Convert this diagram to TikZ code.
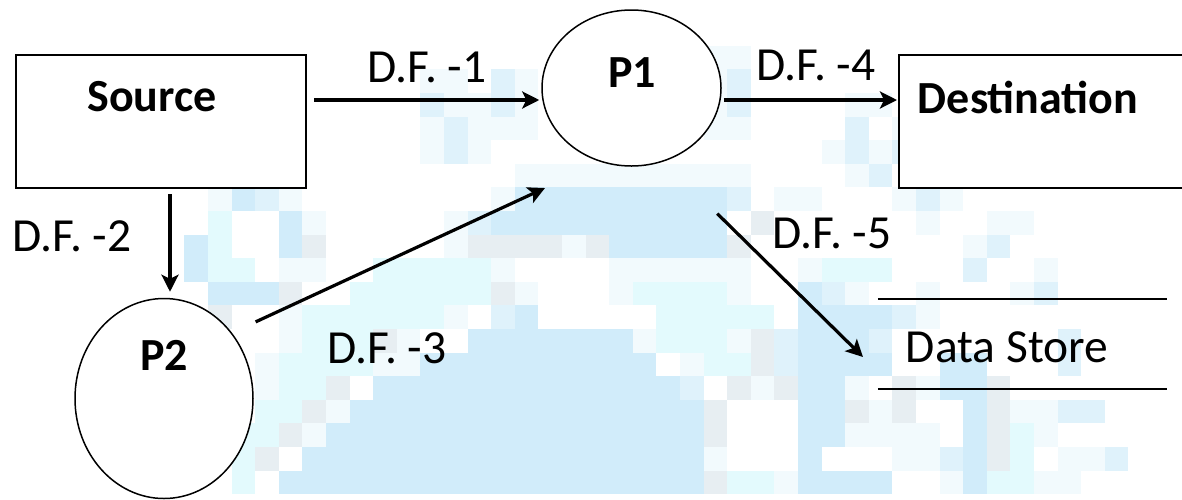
\documentclass[tikz,border=0pt]{standalone}
\usepackage{fontspec}
\setmainfont{Carlito}
\usetikzlibrary{arrows.meta,shapes.geometric}
\definecolor{mosB}{RGB}{209,236,250}
\definecolor{mosLB}{RGB}{223,242,251}
\definecolor{mosC}{RGB}{227,250,253}
\definecolor{mosG}{RGB}{231,238,242}
\definecolor{mosL}{RGB}{242,250,253}

\begin{document}
\begin{tikzpicture}
	 [x=1pt,y=-1pt,every node/.style={inner sep=0pt},
	  entity/.style={draw,fill=white,line width=2pt,minimum width=290pt,minimum height=133pt},
	  process/.style={ellipse,draw,fill=white,line width=1.5pt},
	  txt/.style={font=\fontsize{47.5}{57}\selectfont},
	  bold/.style={font=\fontsize{46}{55}\selectfont\bfseries},
	  flow/.style={-{Stealth[length=17pt,width=17pt,inset=4pt]},line width=3.2pt}]

	\useasboundingbox (0,0) rectangle (1182,499);

	% faded mosaic behind the chart (column/column/row runs)
	\foreach \a/\b/\r in {30/31/2,18/19/3,22/22/3,30/30/3,19/20/4,22/22/4,30/30/4,36/37/4,
	  18/18/5,20/22/5,30/31/5,38/38/5,18/18/6,20/20/6,35/35/6,37/37/6,22/31/7,36/36/7,
	  9/9/8,12/12/8,21/21/8,33/34/8,38/38/8,40/40/8,13/13/9,19/19/9,39/39/9,42/43/9,
	  19/19/10,24/24/10,41/41/10,12/13/11,21/21/11,26/31/11,34/34/11,44/44/11,
	  22/22/12,26/26/12,31/31/12,36/36/12,39/39/12,43/43/12,12/12/13,19/19/13,39/39/13,
	  12/12/14,17/17/14,27/27/14,31/31/14,11/11/15,16/17/15,29/29/15,11/11/16,32/32/16,
	  36/36/16,39/39/16,14/14/17,37/37/17,43/44/17,13/13/18,36/39/18,44/44/18,
	  30/30/19,38/39/19,45/46/19,33/33/20,40/40/20,44/45/20}
    \fill[mosL] ({23.6*\a-4.5},{23.6*\r-1.5}) rectangle ({23.6*\b+19.2},{23.6*\r+22.2});
	\foreach \a/\b/\r in {9/9/9,9/9/10,9/10/11,16/20/11,35/37/11,15/20/12,27/30/12,
	  13/18/13,28/32/13,13/15/14,28/30/14,12/15/15,30/31/15,12/14/16,11/12/17,
	  10/11/18,43/43/18,10/10/19,43/43/19,10/10/20,31/32/20,42/43/20}
    \fill[mosC] ({23.6*\a-4.5},{23.6*\r-1.5}) rectangle ({23.6*\b+19.2},{23.6*\r+22.2});
	\foreach \a/\b/\r in {32/32/9,13/13/10,20/23/10,25/25/10,31/31/10,12/12/12,21/21/12,
	  9/9/13,16/16/14,32/32/14,32/32/15,14/14/16,31/31/16,33/33/16,38/38/16,42/42/16,
	  13/13/17,30/30/17,36/36/17,38/38/17,42/42/17,12/12/18,30/30/18,42/42/18,
	  11/11/19,42/42/19,30/30/20}
    \fill[mosG] ({23.6*\a-4.5},{23.6*\r-1.5}) rectangle ({23.6*\b+19.2},{23.6*\r+22.2});
	\foreach \a/\b/\r in {21/21/3,31/31/3,18/18/4,21/21/4,31/31/4,19/19/5,36/36/5,
	  19/19/6,36/36/6,38/38/6,37/37/7,11/11/8,31/31/8,39/39/8,20/20/9,42/42/10,41/41/11,
	  35/35/12,44/44/12,21/21/13,38/38/13,33/33/14,37/37/14,45/45/14,33/33/15,45/45/15,
	  29/29/16,45/46/17,40/40/19,47/47/19,29/29/20}
    \fill[mosLB] ({23.6*\a-4.5},{23.6*\r-1.5}) rectangle ({23.6*\b+19.2},{23.6*\r+22.2});
	\foreach \a/\b/\r in {10/10/8,22/30/8,12/12/9,21/30/9,8/8/10,12/12/10,26/30/10,8/8/11,
	  9/11/12,34/34/12,22/22/13,34/37/13,20/26/14,34/36/14,18/27/15,34/37/15,40/41/15,
	  16/28/16,34/35/16,40/41/16,15/29/17,34/35/17,41/41/17,14/29/18,34/35/18,41/41/18,
	  13/29/19,34/34/19,41/41/19,12/29/20,34/37/20,41/41/20}
    \fill[mosB] ({23.6*\a-4.5},{23.6*\r-1.5}) rectangle ({23.6*\b+19.2},{23.6*\r+22.2});

	  \node[entity] (src) at (161,121.5) {};
	  \node[entity,minimum width=301pt] (dst) at (1049.5,121.5) {};
	  \node[process,minimum width=179pt,minimum height=156pt] (p1) at (631.5,88) {};
	  \node[process,minimum width=178pt,minimum height=200pt] (p2) at (164,398.5) {};
	  \node[minimum width=289pt,minimum height=90pt] (ds) at (1022.5,344) {};
	  \coordinate (d3) at (545,188);
	  \coordinate (d5) at (863,357);

	  \node[bold] (srcT) at (152,97) {Source};
	  \node[bold] (dstT) at (1028,97) {Destination};
	  \node[bold] (p1T) at (632,73) {P1};
	  \node[bold] (p2T) at (164,355) {P2};
	  \node[txt] (dsT) at (1007,347) {Data Store};

	  \node[txt] (f1) at (427,67) {D.F. -1};
	  \node[txt] (f2) at (72,236) {D.F. -2};
	  \node[txt] (f3) at (387,348) {D.F. -3};
	  \node[txt] (f4) at (816,65) {D.F. -4};
	  \node[txt] (f5) at (832,233) {D.F. -5};

	\foreach \from/\to in {ds.north west/ds.north east,ds.south west/ds.south east}
    \draw[line width=2pt] (\from) -- (\to);

	\draw[flow,shorten <=7pt,shorten >=2pt] ([yshift=21.5pt]src.east) -- ([yshift=-12pt]p1.west);
	\draw[flow,shorten <=2pt,shorten >=1pt] ([yshift=-12pt]p1.east) -- ([yshift=21.5pt]dst.west);
	\draw[flow,shorten <=5pt,shorten >=6pt] ([xshift=9pt]src.south) -- ([xshift=6pt]p2.north);
	\draw[flow,shorten <=26pt] (p2.44) -- (d3);
	\draw[flow,shorten <=74.5pt] (p1.294) -- (d5);

\end{tikzpicture}
\end{document}
